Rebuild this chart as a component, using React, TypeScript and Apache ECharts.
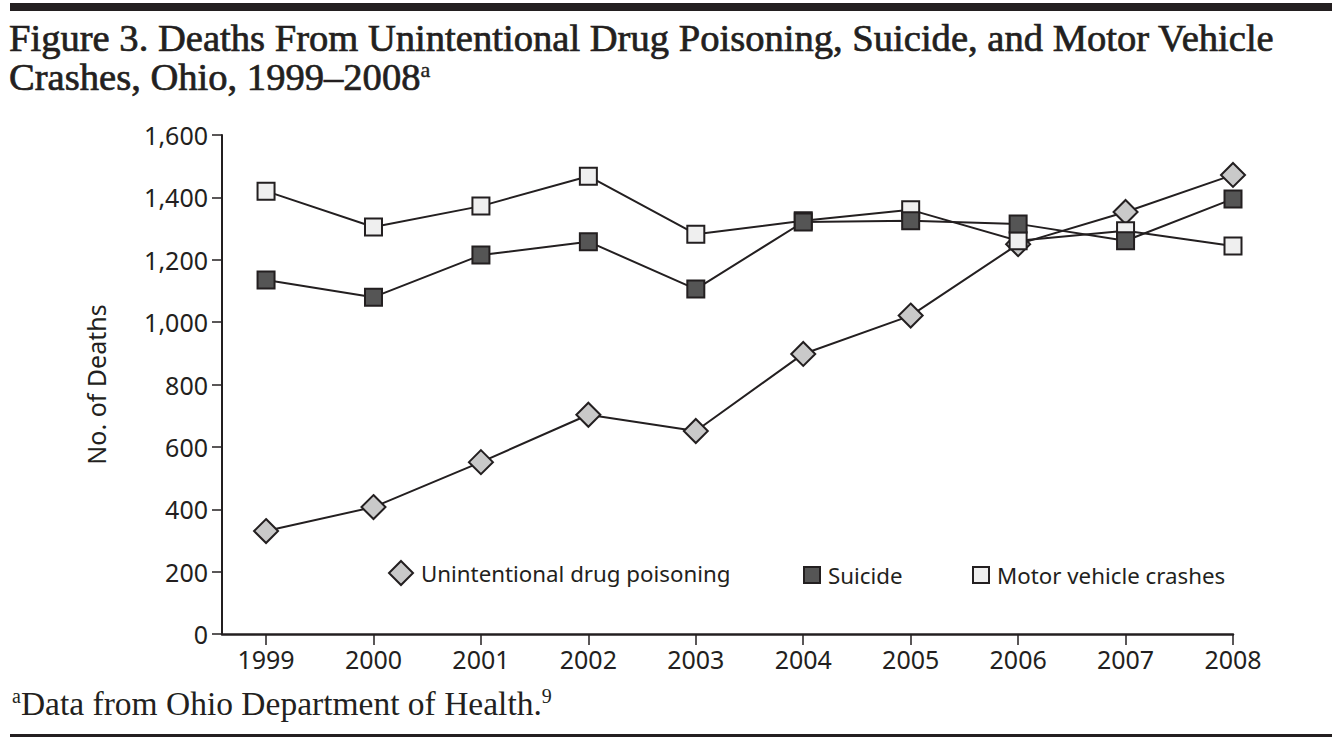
import React, { useEffect, useRef } from "react";
import * as echarts from "echarts";

const years = [1999, 2000, 2001, 2002, 2003, 2004, 2005, 2006, 2007, 2008];
const drugPoisoning = [330, 407, 551, 703, 651, 898, 1021, 1250, 1353, 1472];
const suicide = [1135, 1080, 1215, 1258, 1106, 1321, 1325, 1315, 1261, 1395];
const motorVehicle = [1420, 1305, 1372, 1468, 1282, 1325, 1360, 1261, 1293, 1244];
const yTicks = [0, 200, 400, 600, 800, 1000, 1200, 1400, 1600];

const INK = "#231f20";
const SANS = "'Noto Sans', sans-serif";
const SERIF = "'Liberation Serif', serif";

export default function App() {
  const ref = useRef<HTMLDivElement>(null);
  useEffect(() => {
    if (!ref.current) return;
    const chart = echarts.init(ref.current, null, { renderer: "svg" });
    const pairs = (vals: number[]) => years.map((y, i) => [y, vals[i]]);
    const legendCommon = {
      orient: "horizontal",
      padding: 0,
      textStyle: { fontFamily: SANS, fontSize: 22.3, color: INK, padding: [0, 0, 0, 3] },
      selectedMode: false,
    };
    const titleText = {
      fontFamily: SERIF,
      fontSize: 38.6,
      fontWeight: "normal",
      color: INK,
      lineHeight: 38,
      textBorderColor: INK,
      textBorderWidth: 0.7,
    };
    chart.setOption({
      animation: false,
      backgroundColor: "#ffffff",
      title: [
        {
          left: 9,
          top: 19,
          padding: 0,
          text: "Figure 3. Deaths From Unintentional Drug Poisoning, Suicide, and Motor Vehicle",
          textStyle: titleText,
        },
        {
          left: 9,
          top: 58,
          padding: 0,
          text: "Crashes, Ohio, 1999–2008{sup|a}",
          textStyle: {
            ...titleText,
            rich: {
              sup: {
                fontFamily: SERIF,
                fontSize: 22,
                color: INK,
                verticalAlign: "top",
                lineHeight: 24,
                textBorderColor: INK,
                textBorderWidth: 0.4,
              },
            },
          },
        },
      ],
      graphic: [
        { type: "rect", shape: { x: 10, y: 3, width: 1322, height: 8 }, style: { fill: INK } },
        { type: "rect", shape: { x: 10, y: 734, width: 1322, height: 3 }, style: { fill: INK } },
        {
          type: "text",
          left: 12,
          top: 686,
          style: {
            text: "{sup|a}Data from Ohio Department of Health.{sup|9}",
            fontFamily: SERIF,
            fontSize: 33.5,
            fill: INK,
            rich: {
              sup: { fontFamily: SERIF, fontSize: 20, fill: INK, verticalAlign: "top", lineHeight: 22 },
            },
          },
        },
      ],
      legend: [
        {
          ...legendCommon,
          left: 388,
          top: 560,
          itemWidth: 24,
          itemHeight: 24,
          data: [{ name: "Unintentional drug poisoning", icon: "diamond" }],
          itemStyle: { color: "#c9c9c9", borderColor: INK, borderWidth: 2 },
        },
        {
          ...legendCommon,
          left: 803,
          top: 564,
          itemWidth: 16,
          itemHeight: 16,
          data: [{ name: "Suicide", icon: "rect" }],
          itemStyle: { color: "#555555", borderColor: INK, borderWidth: 2 },
        },
        {
          ...legendCommon,
          left: 972,
          top: 564,
          itemWidth: 16,
          itemHeight: 16,
          data: [{ name: "Motor vehicle crashes", icon: "rect" }],
          itemStyle: { color: "#efefef", borderColor: INK, borderWidth: 2 },
        },
      ],
      grid: { left: 222, right: 108, top: 135, bottom: 104, containLabel: false },
      xAxis: {
        type: "value",
        min: 1998.59,
        max: 2008,
        splitLine: { show: false },
        axisLine: { show: true, lineStyle: { color: INK, width: 2.5 } },
        axisTick: { show: true, customValues: years, length: 11, lineStyle: { color: INK, width: 1.5 } },
        axisLabel: {
          customValues: years,
          formatter: (v: number) => String(v),
          fontFamily: SANS,
          fontSize: 25,
          color: INK,
          margin: 12,
        },
      },
      yAxis: {
        type: "value",
        min: 0,
        max: 1600,
        interval: 200,
        name: "No. of Deaths",
        nameLocation: "middle",
        nameRotate: 90,
        nameGap: 114,
        nameTextStyle: { fontFamily: SANS, fontSize: 25, color: INK },
        splitLine: { show: false },
        axisLine: { show: true, lineStyle: { color: INK, width: 2 } },
        axisTick: { show: true, length: 10, lineStyle: { color: INK, width: 1.5 } },
        axisLabel: {
          fontFamily: SANS,
          fontSize: 25,
          color: INK,
          margin: 14,
          formatter: (v: number) => (yTicks.includes(v) ? v.toLocaleString("en-US") : ""),
        },
      },
      series: [
        {
          name: "Unintentional drug poisoning",
          type: "line",
          data: pairs(drugPoisoning),
          symbol: "diamond",
          symbolSize: 24,
          lineStyle: { color: INK, width: 2 },
          itemStyle: { color: "#c9c9c9", borderColor: INK, borderWidth: 2 },
          z: 2,
        },
        {
          name: "Motor vehicle crashes",
          type: "line",
          data: pairs(motorVehicle),
          symbol: "rect",
          symbolSize: 17,
          lineStyle: { color: INK, width: 2 },
          itemStyle: { color: "#efefef", borderColor: INK, borderWidth: 2 },
          z: 3,
        },
        {
          name: "Suicide",
          type: "line",
          data: pairs(suicide),
          symbol: "rect",
          symbolSize: 17,
          lineStyle: { color: INK, width: 2 },
          itemStyle: { color: "#555555", borderColor: INK, borderWidth: 2 },
          z: 4,
        },
      ],
    });
    return () => chart.dispose();
  }, []);
  return (
    <div
      ref={ref}
      style={{ position: "fixed", left: 0, top: 0, width: 1341, height: 738, background: "#fff" }}
    />
  );
}
